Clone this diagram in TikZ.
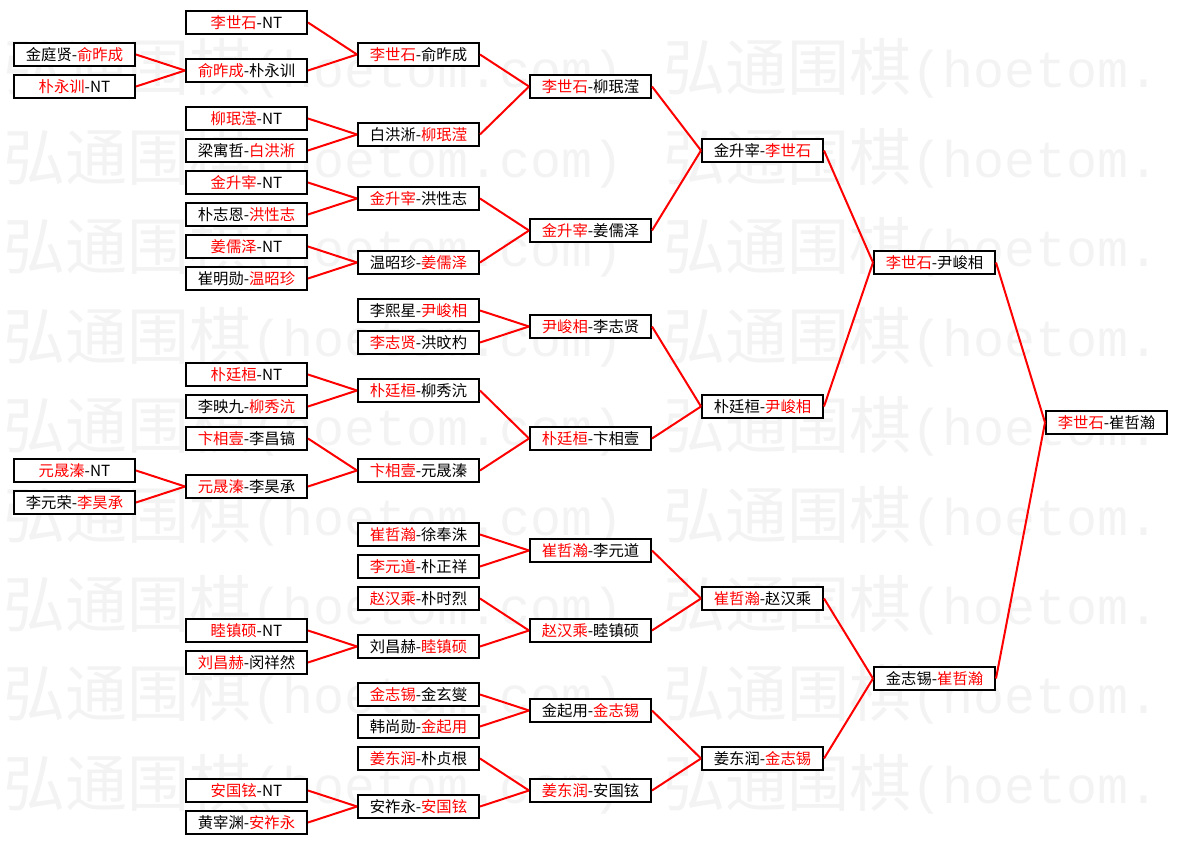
\documentclass[tikz,border=0pt]{standalone}
\usepackage{fontspec}
\newfontfamily\cjk{Noto Sans CJK SC}
\newfontfamily\wmmono{Liberation Mono}
\definecolor{wred}{RGB}{255,0,0}
\definecolor{wmark}{RGB}{243,243,243}
\newcommand\winr[1]{\textcolor{wred}{#1}}
\begin{document}
\begin{tikzpicture}[x=0.75pt,y=-0.75pt,
  match/.style={draw=black,line width=1.5pt,fill=white,minimum width=90.75pt,minimum height=17.25pt,inner sep=0pt,text=black,font=\cjk\fontsize{11.5pt}{13pt}\selectfont},
  link/.style={draw=wred,line width=1.5pt},
  wmcjk/.style={text=wmark,inner sep=0pt,anchor=base west,font=\cjk\fontsize{46.5pt}{48pt}\selectfont},
  wmlat/.style={text=wmark,inner sep=0pt,anchor=base west,font=\wmmono\fontsize{38.75pt}{40pt}\selectfont}]
\useasboundingbox (0,0) rectangle (1178,845);
% watermark
\begin{scope}
\clip (0,0) rectangle (1178,845);
\foreach \i in {0,...,8} {
  \pgfmathsetmacro\yc{68+89.4*\i}
  \node[wmcjk] (wa\i) at (3,{\yc+23}) {弘通围棋};
  \node[wmlat] (wb\i) at (251,{\yc+20}) {(hoetom.com)};
  \node[wmcjk] (wc\i) at (663,{\yc+23}) {弘通围棋};
  \node[wmlat] (wd\i) at (911,{\yc+20}) {(hoetom.};
}
\end{scope}
% column 0
\node[match] (c0n2)  at (74.5,54.5)  {金庭贤-\winr{俞昨成}};
\node[match] (c0n4)  at (74.5,86.5)  {\winr{朴永训}-NT};
\node[match] (c0n28) at (74.5,470.5) {\winr{元晟溱}-NT};
\node[match] (c0n30) at (74.5,502.5) {李元荣-\winr{李昊承}};
% column 1
\node[match] (c1n0)  at (246.5,22.5)  {\winr{李世石}-NT};
\node[match] (c1n3)  at (246.5,70.5)  {\winr{俞昨成}-朴永训};
\node[match] (c1n6)  at (246.5,118.5) {\winr{柳珉滢}-NT};
\node[match] (c1n8)  at (246.5,150.5) {梁寓哲-\winr{白洪淅}};
\node[match] (c1n10) at (246.5,182.5) {\winr{金升宰}-NT};
\node[match] (c1n12) at (246.5,214.5) {朴志恩-\winr{洪性志}};
\node[match] (c1n14) at (246.5,246.5) {\winr{姜儒泽}-NT};
\node[match] (c1n16) at (246.5,278.5) {崔明勋-\winr{温昭珍}};
\node[match] (c1n22) at (246.5,374.5) {\winr{朴廷桓}-NT};
\node[match] (c1n24) at (246.5,406.5) {李映九-\winr{柳秀沆}};
\node[match] (c1n26) at (246.5,438.5) {\winr{卞相壹}-李昌镐};
\node[match] (c1n29) at (246.5,486.5) {\winr{元晟溱}-李昊承};
\node[match] (c1n38) at (246.5,630.5) {\winr{睦镇硕}-NT};
\node[match] (c1n40) at (246.5,662.5) {\winr{刘昌赫}-闵祥然};
\node[match] (c1n48) at (246.5,790.5) {\winr{安国铉}-NT};
\node[match] (c1n50) at (246.5,822.5) {黄宰渊-\winr{安祚永}};
% column 2
\node[match] (c2n2)  at (418.5,54.5)  {\winr{李世石}-俞昨成};
\node[match] (c2n7)  at (418.5,134.5) {白洪淅-\winr{柳珉滢}};
\node[match] (c2n11) at (418.5,198.5) {\winr{金升宰}-洪性志};
\node[match] (c2n15) at (418.5,262.5) {温昭珍-\winr{姜儒泽}};
\node[match] (c2n18) at (418.5,310.5) {李熙星-\winr{尹峻相}};
\node[match] (c2n20) at (418.5,342.5) {\winr{李志贤}-洪旼杓};
\node[match] (c2n23) at (418.5,390.5) {\winr{朴廷桓}-柳秀沆};
\node[match] (c2n28) at (418.5,470.5) {\winr{卞相壹}-元晟溱};
\node[match] (c2n32) at (418.5,534.5) {\winr{崔哲瀚}-徐奉洙};
\node[match] (c2n34) at (418.5,566.5) {\winr{李元道}-朴正祥};
\node[match] (c2n36) at (418.5,598.5) {\winr{赵汉乘}-朴时烈};
\node[match] (c2n39) at (418.5,646.5) {刘昌赫-\winr{睦镇硕}};
\node[match] (c2n42) at (418.5,694.5) {\winr{金志锡}-金玄燮};
\node[match] (c2n44) at (418.5,726.5) {韩尚勋-\winr{金起用}};
\node[match] (c2n46) at (418.5,758.5) {\winr{姜东润}-朴贞根};
\node[match] (c2n49) at (418.5,806.5) {安祚永-\winr{安国铉}};
% column 3
\node[match] (c3n4)  at (590.5,86.5)  {\winr{李世石}-柳珉滢};
\node[match] (c3n13) at (590.5,230.5) {\winr{金升宰}-姜儒泽};
\node[match] (c3n19) at (590.5,326.5) {\winr{尹峻相}-李志贤};
\node[match] (c3n26) at (590.5,438.5) {\winr{朴廷桓}-卞相壹};
\node[match] (c3n33) at (590.5,550.5) {\winr{崔哲瀚}-李元道};
\node[match] (c3n38) at (590.5,630.5) {\winr{赵汉乘}-睦镇硕};
\node[match] (c3n43) at (590.5,710.5) {金起用-\winr{金志锡}};
\node[match] (c3n48) at (590.5,790.5) {\winr{姜东润}-安国铉};
% column 4
\node[match] (c4n8)  at (762.5,150.5) {金升宰-\winr{李世石}};
\node[match] (c4n24) at (762.5,406.5) {朴廷桓-\winr{尹峻相}};
\node[match] (c4n36) at (762.5,598.5) {\winr{崔哲瀚}-赵汉乘};
\node[match] (c4n46) at (762.5,758.5) {姜东润-\winr{金志锡}};
% column 5
\node[match] (c5n15) at (934.5,262.5) {\winr{李世石}-尹峻相};
\node[match] (c5n41) at (934.5,678.5) {金志锡-\winr{崔哲瀚}};
% column 6
\node[match] (c6n25) at (1106.5,422.5) {\winr{李世石}-崔哲瀚};
% links col0 -> col1
\draw[link] (c0n2.east) -- (c1n3.west);
\draw[link] (c0n4.east) -- (c1n3.west);
\draw[link] (c0n28.east) -- (c1n29.west);
\draw[link] (c0n30.east) -- (c1n29.west);
% links col1 -> col2
\draw[link] (c1n0.east) -- (c2n2.west);
\draw[link] (c1n3.east) -- (c2n2.west);
\draw[link] (c1n6.east) -- (c2n7.west);
\draw[link] (c1n8.east) -- (c2n7.west);
\draw[link] (c1n10.east) -- (c2n11.west);
\draw[link] (c1n12.east) -- (c2n11.west);
\draw[link] (c1n14.east) -- (c2n15.west);
\draw[link] (c1n16.east) -- (c2n15.west);
\draw[link] (c1n22.east) -- (c2n23.west);
\draw[link] (c1n24.east) -- (c2n23.west);
\draw[link] (c1n26.east) -- (c2n28.west);
\draw[link] (c1n29.east) -- (c2n28.west);
\draw[link] (c1n38.east) -- (c2n39.west);
\draw[link] (c1n40.east) -- (c2n39.west);
\draw[link] (c1n48.east) -- (c2n49.west);
\draw[link] (c1n50.east) -- (c2n49.west);
% links col2 -> col3
\draw[link] (c2n2.east) -- (c3n4.west);
\draw[link] (c2n7.east) -- (c3n4.west);
\draw[link] (c2n11.east) -- (c3n13.west);
\draw[link] (c2n15.east) -- (c3n13.west);
\draw[link] (c2n18.east) -- (c3n19.west);
\draw[link] (c2n20.east) -- (c3n19.west);
\draw[link] (c2n23.east) -- (c3n26.west);
\draw[link] (c2n28.east) -- (c3n26.west);
\draw[link] (c2n32.east) -- (c3n33.west);
\draw[link] (c2n34.east) -- (c3n33.west);
\draw[link] (c2n36.east) -- (c3n38.west);
\draw[link] (c2n39.east) -- (c3n38.west);
\draw[link] (c2n42.east) -- (c3n43.west);
\draw[link] (c2n44.east) -- (c3n43.west);
\draw[link] (c2n46.east) -- (c3n48.west);
\draw[link] (c2n49.east) -- (c3n48.west);
% links col3 -> col4
\draw[link] (c3n4.east) -- (c4n8.west);
\draw[link] (c3n13.east) -- (c4n8.west);
\draw[link] (c3n19.east) -- (c4n24.west);
\draw[link] (c3n26.east) -- (c4n24.west);
\draw[link] (c3n33.east) -- (c4n36.west);
\draw[link] (c3n38.east) -- (c4n36.west);
\draw[link] (c3n43.east) -- (c4n46.west);
\draw[link] (c3n48.east) -- (c4n46.west);
% links col4 -> col5
\draw[link] (c4n8.east) -- (c5n15.west);
\draw[link] (c4n24.east) -- (c5n15.west);
\draw[link] (c4n36.east) -- (c5n41.west);
\draw[link] (c4n46.east) -- (c5n41.west);
% links col5 -> col6
\draw[link] (c5n15.east) -- (c6n25.west);
\draw[link] (c5n41.east) -- (c6n25.west);
\end{tikzpicture}
\end{document}
